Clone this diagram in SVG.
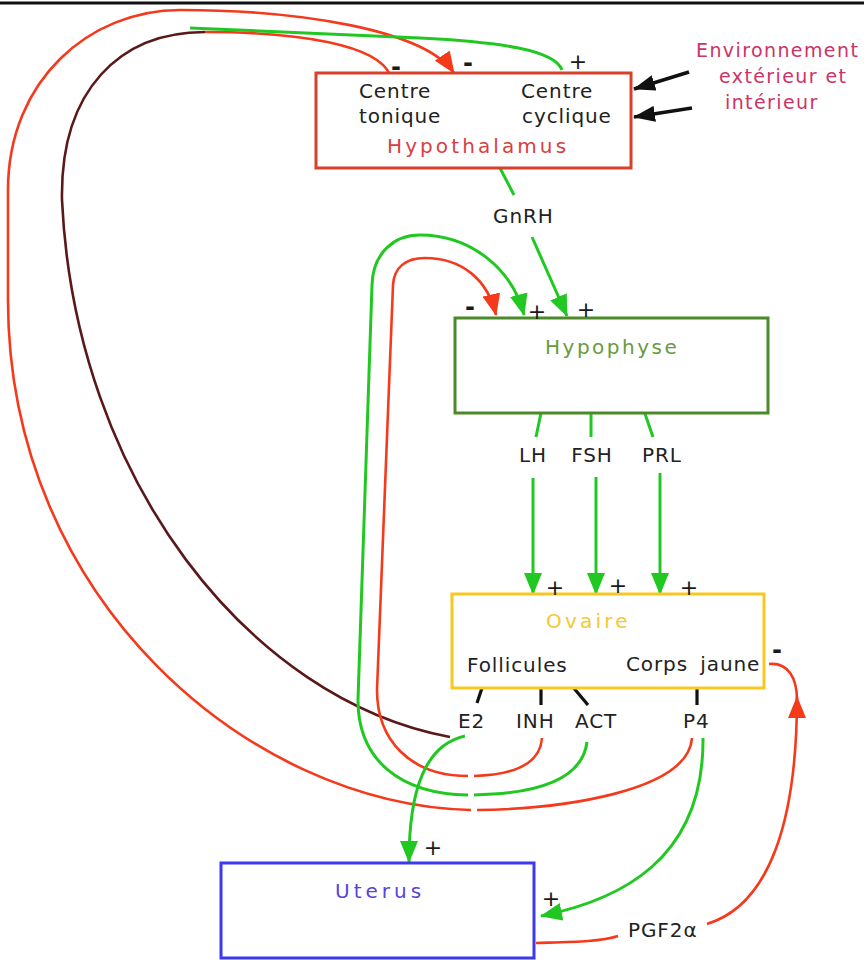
<svg xmlns="http://www.w3.org/2000/svg" width="864" height="960" viewBox="0 0 864 960">
<defs>
<style>
.t{font-family:"DejaVu Sans","Liberation Sans",sans-serif;font-size:20px;fill:#222;letter-spacing:0.9px}
.s{font-family:"DejaVu Sans","Liberation Sans",sans-serif;font-size:22px;fill:#1a1a1a;text-anchor:middle}
.m{font-family:"DejaVu Sans","Liberation Sans",sans-serif;font-size:24px;font-weight:bold;fill:#1a1a1a;text-anchor:middle}
.box{fill:#ffffff;stroke-width:3}
.bl{font-family:"DejaVu Sans","Liberation Sans",sans-serif;font-size:20px}
.g{fill:none;stroke:#22c822;stroke-width:3}
.r{fill:none;stroke:#f53a1c;stroke-width:2.6}
.br{fill:none;stroke:#5a1818;stroke-width:2.6}
.k{fill:none;stroke:#111;stroke-width:3.2}
.env{font-family:"DejaVu Sans","Liberation Sans",sans-serif;font-size:19px;fill:#cc3366;letter-spacing:1.4px}
</style>
<marker id="aG" markerUnits="userSpaceOnUse" markerWidth="22" markerHeight="18" refX="21" refY="9" orient="auto"><path d="M0,0 L22,9 L0,18 z" fill="#22c822"/></marker>
<marker id="aR" markerUnits="userSpaceOnUse" markerWidth="22" markerHeight="18" refX="21" refY="9" orient="auto"><path d="M0,0 L22,9 L0,18 z" fill="#f53a1c"/></marker>
<marker id="aK" markerUnits="userSpaceOnUse" markerWidth="22" markerHeight="16" refX="21" refY="8" orient="auto"><path d="M0,0 L22,8 L0,16 z" fill="#111"/></marker>
</defs>
<rect width="864" height="960" fill="#ffffff"/>
<line x1="0" y1="3" x2="864" y2="3" stroke="#111" stroke-width="3"/>

<g id="connectors">
  <!-- outer red loop P4 -> hypothalamus -->
  <path class="r" d="M692,738 C688,792 560,809 477,810"/>
  <path class="r" d="M471,810 C250,805 8,600 8,300 L8,190 C8,80 90,10 180,10 C300,10 425,30 454,73" marker-end="url(#aR)"/>
  <!-- E2 feedback: brown to top, then red to tonique and green to cyclique -->
  <path class="br" d="M450,737 C250,700 75,480 62,200 C60,90 120,32 205,32"/>
  <path class="r" d="M205,32 C300,32 378,45 390,75"/>
  <path class="g" d="M190,28 L420,38 C500,42 555,50 562,70"/>
  <!-- ACT green loop -> hypophyse -->
  <path class="g" d="M587,742 C582,782 530,794 474,795"/>
  <path class="g" d="M468,795 C400,794 358,760 358,700 L372,285 C373,252 395,235 420,235 C470,235 512,268 524,315" marker-end="url(#aG)"/>
  <!-- INH red loop -> hypophyse -->
  <path class="r" d="M542,738 C540,766 510,775 474,776"/>
  <path class="r" d="M468,776 C410,776 377,740 377,690 L393,285 C394,268 405,258 425,258 C462,258 488,280 496,315" marker-end="url(#aR)"/>
  <!-- GnRH -->
  <path class="g" d="M500,168 L514,195"/>
  <path class="g" d="M532,237 L567,316" marker-end="url(#aG)"/>
  <!-- hypophyse outputs -->
  <path class="g" d="M542,408 L536,437"/>
  <path class="g" d="M591,408 L591,437"/>
  <path class="g" d="M643,408 L653,437"/>
  <path class="g" d="M533,478 L533,594" marker-end="url(#aG)"/>
  <path class="g" d="M596,477 L596,594" marker-end="url(#aG)"/>
  <path class="g" d="M660,473 L660,594" marker-end="url(#aG)"/>
  <!-- ovary ticks -->
  <path class="k" d="M484,682 L477,703"/>
  <path class="k" d="M541,683 L541,705"/>
  <path class="k" d="M567,680 L588,705"/>
  <path class="k" d="M697,683 L697,705"/>
  <!-- E2 -> uterus -->
  <path class="g" d="M465,736 C425,745 409,790 409,862" marker-end="url(#aG)"/>
  <!-- P4 -> uterus -->
  <path class="g" d="M703,738 C704,860 620,900 541,916" marker-end="url(#aG)"/>
  <!-- PGF2a -->
  <path class="r" d="M536,943 C570,942 600,942 618,936"/>
  <path class="r" d="M707,924 C770,905 797,820 797,697" marker-end="url(#aR)"/>
  <path class="r" d="M769,664 C788,662 797,678 797,700"/>
  <!-- environment arrows -->
  <path fill="none" stroke="#111" stroke-width="3.5" d="M689,72 L634,89" marker-end="url(#aK)"/>
  <path fill="none" stroke="#111" stroke-width="3.5" d="M692,108 L634,117" marker-end="url(#aK)"/>
</g>

<g id="hypothalamus">
  <rect class="box" x="316" y="73" width="315" height="95" stroke="#d8402a"/>
  <text class="t" x="359" y="98">Centre</text>
  <text class="t" x="359" y="123">tonique</text>
  <text class="t" x="521" y="98">Centre</text>
  <text class="t" x="522" y="123">cyclique</text>
  <text class="bl" x="387" y="153" fill="#d84040" letter-spacing="3.1">Hypothalamus</text>
  <text class="m" x="396" y="75">-</text>
  <text class="m" x="468" y="71">-</text>
  <text class="s" x="578" y="69">+</text>
</g>

<g id="environnement">
  <text class="env" x="696" y="57">Environnement</text>
  <text class="env" x="719" y="83">extérieur et</text>
  <text class="env" x="725" y="109" letter-spacing="0.5">intérieur</text>
</g>

<g id="gnrh">
  <text class="t" x="493" y="223" letter-spacing="0">GnRH</text>
</g>

<g id="hypophyse">
  <rect class="box" x="455" y="318" width="313" height="95" stroke="#4a8a28"/>
  <text class="bl" x="545" y="354" fill="#6a9a40" letter-spacing="2.5">Hypophyse</text>
  <text class="m" x="470" y="315">-</text>
  <text class="s" x="537" y="319">+</text>
  <text class="s" x="586" y="317">+</text>
</g>

<g id="hormones">
  <text class="t" x="533" y="462" text-anchor="middle">LH</text>
  <text class="t" x="592" y="462" text-anchor="middle">FSH</text>
  <text class="t" x="662" y="462" text-anchor="middle">PRL</text>
</g>

<g id="ovaire">
  <rect class="box" x="452" y="594" width="312" height="94" stroke="#f8c820"/>
  <text class="bl" x="546" y="628" fill="#f5c830" letter-spacing="3.2">Ovaire</text>
  <text class="t" x="467" y="672" letter-spacing="2.2">Follicules</text>
  <text class="t" x="626" y="671" word-spacing="5">Corps jaune</text>
  <text class="s" x="555" y="595">+</text>
  <text class="s" x="618" y="593">+</text>
  <text class="s" x="689" y="595">+</text>
  <text class="m" x="777" y="658">-</text>
  <text class="t" x="458" y="728">E2</text>
  <text class="t" x="516" y="728">INH</text>
  <text class="t" x="575" y="728">ACT</text>
  <text class="t" x="683" y="728">P4</text>
</g>

<g id="uterus">
  <rect class="box" x="221" y="863" width="313" height="95" stroke="#3a3af0"/>
  <text class="bl" x="335" y="898" fill="#5545d8" letter-spacing="4">Uterus</text>
  <text class="s" x="433" y="855">+</text>
  <text class="s" x="551" y="906">+</text>
</g>

<g id="pgf">
  <text class="t" x="628" y="937">PGF2α</text>
</g>
</svg>
